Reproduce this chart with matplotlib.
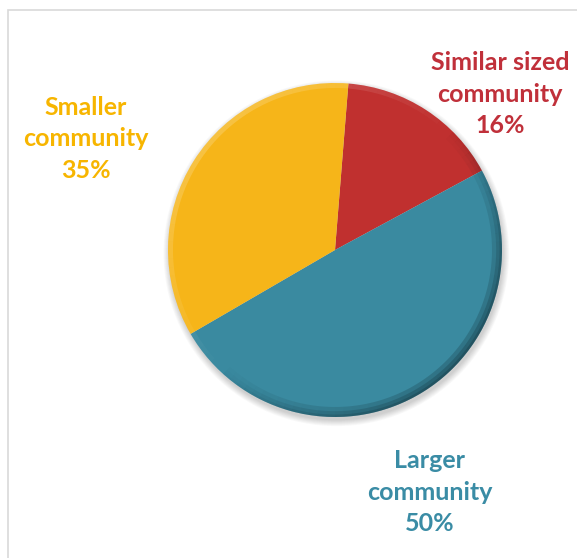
import numpy as np
import matplotlib.pyplot as plt
from matplotlib.patches import Rectangle, Wedge, Circle

# community size shares, clockwise from the top
labels = ['Similar sized\ncommunity', 'Larger\ncommunity', 'Smaller\ncommunity']
shares = [16, 50, 35]
colors = ['#c0302f', '#3a8aa0', '#f6b519']
text_colors = ['#c0303a', '#3a8ca5', '#f7b500']

W, H = 577, 558
fig = plt.figure(figsize=(W / 100, H / 100), dpi=100)

# light frame round the chart area, running off the right and bottom
fig.add_artist(Rectangle((7.5 / W, -0.05), 1.1, (H - 9.5) / H + 0.05,
                         transform=fig.transFigure, fill=False,
                         edgecolor='#d9d9d9', linewidth=1.2))

cx, cy, r = 335, H - 250, 167
ax = fig.add_axes([(cx - r) / W, (cy - r) / H, 2 * r / W, 2 * r / H])

# soft drop shadow under the disc
for i in range(8):
    ax.add_patch(Circle((0.008, -0.02), 1.0 + i * 0.005, facecolor='#000000',
                        alpha=0.022, edgecolor='none', zorder=0, clip_on=False))

wedges, _ = ax.pie(shares, colors=colors, startangle=85.4, counterclock=False,
                   radius=1.0, wedgeprops=dict(linewidth=0))
for w in wedges:
    w.set_zorder(1)
    w.set_clip_on(False)

# bevelled rim: darker towards the lower right, lighter towards the upper left
step = 3
for a in range(0, 360, step):
    k = np.cos(np.radians(a - (-45)))
    if k > 0:
        for wid in [0.06, 0.035, 0.015]:
            ax.add_patch(Wedge((0, 0), 1.0, a, a + step, width=wid,
                               facecolor='#0a1a20', edgecolor='none',
                               alpha=0.2 * k, zorder=2, clip_on=False))
    else:
        ax.add_patch(Wedge((0, 0), 1.0, a, a + step, width=0.03,
                           facecolor='white', edgecolor='none',
                           alpha=0.18 * -k, zorder=2, clip_on=False))

ax.set_xlim(-1, 1)
ax.set_ylim(-1, 1)
ax.set_aspect('auto')
ax.axis('off')

font = dict(family='Lato', weight='bold', fontsize=18, ha='center',
            va='center', linespacing=1.45)
label_pos = [(500, 94), (430, 492), (86, 139)]
for lab, val, (x, y), c in zip(labels, shares, label_pos, text_colors):
    fig.text(x / W, 1 - y / H, f'{lab}\n{val}%', color=c, **font)

fig.savefig('out.png', dpi=100)
